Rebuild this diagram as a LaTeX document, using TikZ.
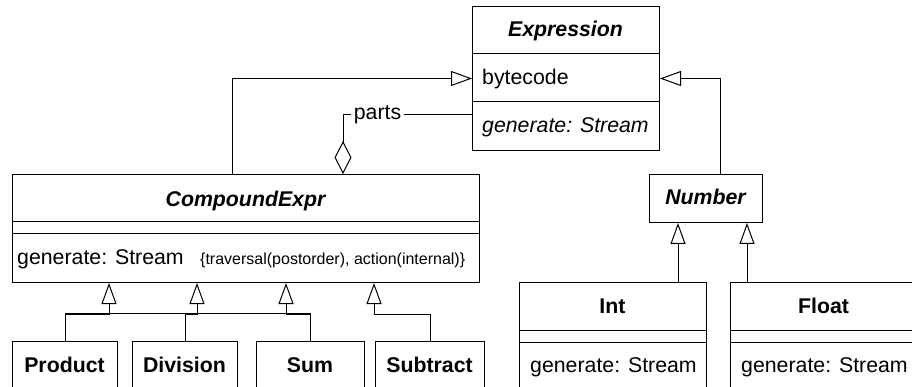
\documentclass[tikz,border=0pt]{standalone}
\usepackage{fontspec}
\setmainfont{Liberation Sans}
\usetikzlibrary{arrows.meta}
\begin{document}
\begin{tikzpicture}[x=1pt, y=-1pt, font=\fontsize{21.3}{25}\selectfont]
\tikzset{
  conn/.style={line width=1pt, line join=miter},
  umlbox/.style={draw, line width=1pt, rectangle, inner sep=0pt, anchor=north west},
  divider/.style={line width=1pt},
  gen/.style={conn, -{Triangle[open, length=21pt, width=15pt, line width=1pt]}},
  agg/.style={conn, {Diamond[open, length=33pt, width=17pt, line width=1pt]}-},
  ttl/.style={anchor=base, inner sep=0pt, font=\fontsize{21.3}{25}\selectfont\bfseries},
  abst/.style={anchor=base, inner sep=0pt, font=\fontsize{21.3}{25}\selectfont\bfseries\itshape},
  member/.style={anchor=base west, inner sep=0pt},
  constraint/.style={anchor=base west, inner sep=0pt, font=\fontsize{16}{19}\selectfont},
}
\useasboundingbox (0,0) rectangle (912,387);
\clip (0,0) rectangle (912,387);

% class boxes
\node[umlbox, minimum width=187pt, minimum height=144pt] (expr) at (472,6) {};
\node[umlbox, minimum width=467pt, minimum height=108pt] (cexpr) at (12,174) {};
\node[umlbox, minimum width=113pt, minimum height=48pt] (num) at (649,174) {};
\node[umlbox, minimum width=187pt, minimum height=120pt] (int) at (519,282) {};
\node[umlbox, minimum width=187pt, minimum height=120pt] (flt) at (730,282) {};
\node[umlbox, minimum width=105pt, minimum height=60pt] (prod) at (12,341) {};
\node[umlbox, minimum width=105pt, minimum height=60pt] (div) at (132,341) {};
\node[umlbox, minimum width=108pt, minimum height=60pt] (sum) at (256,341) {};
\node[umlbox, minimum width=109pt, minimum height=60pt] (sub) at (375,341) {};

% compartment dividers
\draw[divider] ([yshift=-48pt]expr.north west) -- ([yshift=-48pt]expr.north east);
\draw[divider] ([yshift=-96pt]expr.north west) -- ([yshift=-96pt]expr.north east);
\draw[divider] ([yshift=-48pt]cexpr.north west) -- ([yshift=-48pt]cexpr.north east);
\draw[divider] ([yshift=-60pt]cexpr.north west) -- ([yshift=-60pt]cexpr.north east);
\draw[divider] ([yshift=-48pt]int.north west) -- ([yshift=-48pt]int.north east);
\draw[divider] ([yshift=-60pt]int.north west) -- ([yshift=-60pt]int.north east);
\draw[divider] ([yshift=-48pt]flt.north west) -- ([yshift=-48pt]flt.north east);
\draw[divider] ([yshift=-60pt]flt.north west) -- ([yshift=-60pt]flt.north east);

% texts
\node[abst] (exprT) at (565.5,36.5) {Expression};
\node[member] (exprA) at (482,84.5) {bytecode};
\node[member] (exprO) at (482,132.5) {\itshape generate: Stream};
\node[abst] (cexprT) at (245.5,207) {CompoundExpr};
\node[member] (cexprO) at (17,264) {generate: Stream};
\node[constraint] (cexprN) at (200,264) {\{traversal(postorder), action(internal)\}};
\node[abst] (numT) at (705.5,205) {Number};
\node[ttl] (intT) at (612.5,313) {Int};
\node[member] (intO) at (530,372) {generate: Stream};
\node[ttl] (fltT) at (823.5,313) {Float};
\node[member] (fltO) at (741,372) {generate: Stream};
\node[ttl] (prodT) at (64.5,372) {Product};
\node[ttl] (divT) at (184.5,372) {Division};
\node[ttl] (sumT) at (310,372) {Sum};
\node[ttl] (subT) at (429.5,372) {Subtract};

% generalizations to Expression
\draw[gen] ([xshift=220pt]cexpr.north west) |- (expr.west);
\draw[gen] ([xshift=71pt]num.north west) |- (expr.east);

% aggregation "parts"
\draw[agg] ([xshift=331pt]cexpr.north west) |- ([yshift=-36pt]expr.west);
\node[anchor=base, fill=white, inner xsep=2.5pt, inner ysep=1pt] (partsL) at (377.5,120) {parts};

% subclasses of CompoundExpr
\draw[conn] ([yshift=28pt]prod.north) -- ([yshift=28pt]sum.north);
\draw[gen] (prod.north) |- ([xshift=97pt, yshift=-31pt]cexpr.south west) -- ([xshift=97pt]cexpr.south west);
\draw[gen] (div.north) |- ([xshift=185pt, yshift=-31pt]cexpr.south west) -- ([xshift=185pt]cexpr.south west);
\draw[gen] (sum.north) |- ([xshift=274pt, yshift=-31pt]cexpr.south west) -- ([xshift=274pt]cexpr.south west);
\draw[gen] (sub.north) |- ([xshift=362pt, yshift=-31pt]cexpr.south west) -- ([xshift=362pt]cexpr.south west);

% subclasses of Number
\draw[gen] ([xshift=159pt]int.north west) -- ([xshift=29pt]num.south west);
\draw[gen] ([xshift=17pt]flt.north west) -- ([xshift=98pt]num.south west);
\end{tikzpicture}
\end{document}
